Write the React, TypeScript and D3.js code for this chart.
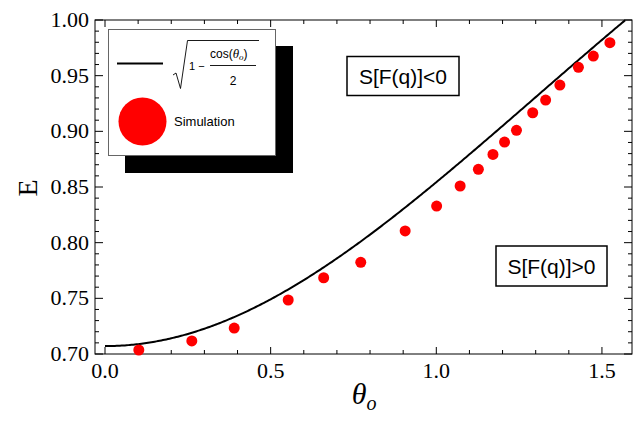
import React from "react";
import * as d3 from "d3";

// simulation points (theta, E)
const simTheta = [0.102, 0.262, 0.39, 0.553, 0.66, 0.772, 0.906, 1.001, 1.072, 1.127, 1.171, 1.206, 1.242, 1.291, 1.33, 1.373, 1.429, 1.474, 1.524];
const simE = [0.7036, 0.7117, 0.7233, 0.7485, 0.7685, 0.7823, 0.8105, 0.8329, 0.8509, 0.8659, 0.8793, 0.8904, 0.9009, 0.9167, 0.9281, 0.9416, 0.9575, 0.9676, 0.9796];

const xTickLabels = ["0.0", "0.5", "1.0", "1.5"];
const yTickLabels = ["0.70", "0.75", "0.80", "0.85", "0.90", "0.95", "1.00"];

const W = 636;
const H = 422;
const left = 95, right = 632, top = 20, bottom = 354;

const serif = "'Liberation Serif', 'Times New Roman', serif";
const sans = "'Liberation Sans', Arial, sans-serif";

function App() {
  const x = d3.scaleLinear().domain([-0.0302, 1.5907]).range([left, right]);
  const y = d3.scaleLinear().domain([0.7, 1.0]).range([bottom, top]);

  const curveTheta = d3.range(0, Math.PI / 2 + 0.001, 0.005);
  const line = d3
    .line<number>()
    .x((t) => x(t))
    .y((t) => y(Math.sqrt(1 - Math.cos(t) / 2)));

  const xMinor = d3.range(0, 16).map((i) => i / 10);
  const yMinor = d3.range(0, 31).map((i) => 0.7 + i / 100);
  const isMajorX = (v: number) => Math.abs(v * 2 - Math.round(v * 2)) < 1e-6;
  const isMajorY = (v: number) => Math.abs(v * 20 - Math.round(v * 20)) < 1e-6;

  return (
    <svg width={W} height={H} style={{ position: "fixed", left: 0, top: 0, background: "#fff" }}>
      <defs>
        <clipPath id="plot">
          <rect x={left} y={top} width={right - left} height={bottom - top} />
        </clipPath>
      </defs>

      {/* frame */}
      <rect x={left} y={top} width={right - left} height={bottom - top} fill="none" stroke="#000" strokeWidth={1} />

      {xMinor.map((v, i) => {
        const len = isMajorX(v) ? 7 : 4;
        return (
          <g key={"xt" + i} stroke="#000" strokeWidth={1}>
            <line x1={x(v)} x2={x(v)} y1={bottom} y2={bottom - len} />
            <line x1={x(v)} x2={x(v)} y1={top} y2={top + len} />
          </g>
        );
      })}
      {yMinor.map((v, i) => {
        const len = isMajorY(v) ? 8 : 4;
        return (
          <g key={"yt" + i} stroke="#000" strokeWidth={1}>
            <line x1={left} x2={left + len} y1={y(v)} y2={y(v)} />
            <line x1={right} x2={right - len} y1={y(v)} y2={y(v)} />
          </g>
        );
      })}

      {xTickLabels.map((s) => (
        <text key={s} x={x(+s)} y={bottom + 24} textAnchor="middle" fontFamily={serif} fontSize={22}>
          {s}
        </text>
      ))}
      {yTickLabels.map((s) => (
        <text key={s} x={left - 6} y={y(+s) + 7} textAnchor="end" fontFamily={serif} fontSize={22}>
          {s}
        </text>
      ))}

      {/* axis labels */}
      <text transform="translate(37,188) rotate(-90)" textAnchor="middle" fontFamily={serif} fontSize={28}>
        E
      </text>
      <text x={364} y={404} textAnchor="middle" fontFamily={serif} fontStyle="italic" fontSize={30}>
        θ<tspan fontSize={20} dy={6}>o</tspan>
      </text>

      <g clipPath="url(#plot)">
        <path d={line(curveTheta) ?? ""} fill="none" stroke="#000" strokeWidth={2} />
      </g>

      {simTheta.map((t, i) => (
        <circle key={i} cx={x(t)} cy={y(simE[i])} r={5.5} fill="#ff0000" />
      ))}

      {/* legend */}
      <rect x={125} y={46} width={168} height={127} fill="#000" />
      <rect x={108.5} y={29.5} width={167} height={126} fill="#fff" stroke="#666" strokeWidth={1} />
      <line x1={117} x2={163} y1={63.5} y2={63.5} stroke="#000" strokeWidth={2} />
      <path d="M173,75 L176,73 L180.5,88.5 L187.5,40.5 L259,40.5" fill="none" stroke="#000" strokeWidth={0.9} />
      <text x={189} y={69.5} fontFamily={sans} fontSize={11}>
        1 −
      </text>
      <text x={210} y={58} fontFamily={sans} fontSize={12}>
        cos(<tspan fontFamily={serif} fontStyle="italic" fontSize={13}>θ</tspan>
        <tspan fontFamily={serif} fontStyle="italic" fontSize={9} dy={2}>o</tspan>
        <tspan dy={-2}>)</tspan>
      </text>
      <line x1={210} x2={256} y1={65.5} y2={65.5} stroke="#000" strokeWidth={0.9} />
      <text x={233} y={85} textAnchor="middle" fontFamily={sans} fontSize={12}>
        2
      </text>
      <circle cx={142.5} cy={121.5} r={24} fill="#ff0000" />
      <text x={174} y={126} fontFamily={sans} fontSize={13}>
        Simulation
      </text>

      {/* region labels */}
      <rect x={347} y={56.5} width={112} height={39} fill="#fff" stroke="#000" strokeWidth={1.5} />
      <text x={403} y={84} textAnchor="middle" fontFamily={sans} fontSize={21}>
        S[F(q)]&lt;0
      </text>
      <rect x={496} y={246} width={111} height={40} fill="#fff" stroke="#000" strokeWidth={1.5} />
      <text x={551.5} y={274} textAnchor="middle" fontFamily={sans} fontSize={21}>
        S[F(q)]&gt;0
      </text>
    </svg>
  );
}

export default App;
